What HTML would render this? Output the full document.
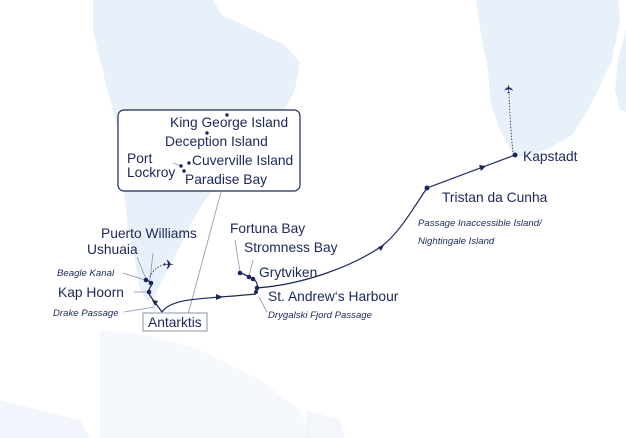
<!DOCTYPE html>
<html><head><meta charset="utf-8"><style>
html,body{margin:0;padding:0;background:#fff;}
svg{display:block;}
text{font-family:"Liberation Sans",sans-serif;fill:#1b2759;}
.n{font-size:13.8px;}
.i{font-size:9.6px;font-style:italic;}
</style></head><body>
<svg width="626" height="438" viewBox="0 0 626 438" xmlns="http://www.w3.org/2000/svg">
<g fill="#e8f0fa">
<path d="M93,0 L213,0 L222,15 L250,28 L285,45 L300,62 L295,90 L287,105 L275,120 L255,140 L230,170 L205,200 L190,225 L178,250 L165,275 L155,295 L148,302 L140,290 L135,260 L128,230 L125,200 L122,170 L118,130 L110,100 L100,60 L93,30 Z"/>
<path d="M476,0 L618,0 L620,20 L612,60 L598,90 L585,115 L572,135 L550,148 L530,155 L515,157 L505,140 L498,125 L490,100 L488,70 L482,40 Z"/>
<path d="M626,30 L618,60 L615,90 L620,110 L626,112 Z"/>
<path d="M0,400 L40,410 L80,420 L90,438 L0,438 Z" opacity="0.6"/>
<path d="M100,330 L150,335 L200,350 L260,380 L300,410 L310,438 L100,438 Z" opacity="0.45"/>
<path d="M306,410 L340,420 L345,438 L306,438 Z" opacity="0.5"/>
</g>
<rect x="118" y="110" width="182" height="81" rx="6" fill="#fff" stroke="#1b2759" stroke-width="1.2"/>
<g stroke="#8a93ad" stroke-width="0.8" fill="none">
<line x1="221" y1="192" x2="186" y2="322"/>
<line x1="137" y1="257" x2="146" y2="279"/>
<line x1="153" y1="253" x2="150" y2="280"/>
<line x1="123" y1="273" x2="145" y2="280"/>
<line x1="134" y1="292" x2="146" y2="292"/>
<line x1="124" y1="312" x2="155" y2="307"/>
<line x1="235" y1="240" x2="240" y2="272"/>
<line x1="253" y1="260" x2="249" y2="276"/>
<line x1="259" y1="297" x2="267" y2="312"/>
<line x1="173" y1="163" x2="181" y2="166"/>
</g>
<rect x="143" y="313" width="64" height="18" fill="#fff" stroke="#8a93ad" stroke-width="1"/>
<g stroke="#1b2759" stroke-width="1.2" fill="none">
<path d="M146,280 C150,281 153,283 151,286 C148,290 148,293 151,297 L162,312"/>
<path d="M162,312 C170,300 195,299 220,297 C235,296 245,295 256,294"/>
<path d="M256,288 C300,285 350,268 382,246 C400,232 412,210 427,188 L515,155"/>
<path d="M240,273 C245,274 249,277 253,279 C258,282 258,286 256,292"/>
</g>
<path d="M150,277 C153,270 158,266 166,264" stroke="#1b2759" stroke-width="0.8" stroke-dasharray="1.5,1.5" fill="none"/>
<path d="M513,152 C511,135 510,115 509,94" stroke="#1b2759" stroke-width="0.8" stroke-dasharray="1.5,1.5" fill="none"/>
<g fill="#1b2759">
<polygon points="155,306 152,300 158,301"/>
<polygon points="223,297 216,294 216,300"/>
<polygon points="384,245 378,247 381,251"/>
<polygon points="486,166 479,165 481,171"/>
<circle cx="146" cy="280" r="2.3"/><circle cx="151" cy="283" r="2.3"/><circle cx="149" cy="292" r="2.3"/>
<circle cx="240" cy="273" r="2.3"/><circle cx="249" cy="277" r="2.3"/><circle cx="253" cy="279" r="2.3"/>
<circle cx="257" cy="288" r="2.3"/><circle cx="256" cy="292" r="2"/><circle cx="427" cy="188" r="2.5"/><circle cx="515" cy="155" r="2.5"/>
<circle cx="227" cy="115" r="1.7"/><circle cx="207" cy="133" r="1.7"/><circle cx="189" cy="163" r="1.7"/>
<circle cx="181" cy="166" r="1.7"/><circle cx="184" cy="171" r="1.7"/>
<text x="163" y="269" font-size="13" style="font-family:'DejaVu Sans',sans-serif">✈</text>
<text x="504" y="93" font-size="12" transform="rotate(-90 509 89)" style="font-family:'DejaVu Sans',sans-serif">✈</text>
</g>
<text class="n" x="170" y="127">King George Island</text>
<text class="n" x="165" y="146">Deception Island</text>
<text class="n" x="127" y="163">Port</text>
<text class="n" x="127" y="177">Lockroy</text>
<text class="n" x="192" y="165">Cuverville Island</text>
<text class="n" x="185" y="184">Paradise Bay</text>
<text class="n" x="101" y="238">Puerto Williams</text>
<text class="n" x="87" y="254">Ushuaia</text>
<text class="i" x="57" y="276">Beagle Kanal</text>
<text class="n" x="58" y="297">Kap Hoorn</text>
<text class="i" x="53" y="316">Drake Passage</text>
<text class="n" x="148" y="327">Antarktis</text>
<text class="n" x="230" y="233">Fortuna Bay</text>
<text class="n" x="244" y="252">Stromness Bay</text>
<text class="n" x="259" y="277">Grytviken</text>
<text class="n" x="268" y="301">St. Andrew‘s Harbour</text>
<text class="i" x="268" y="318">Drygalski Fjord Passage</text>
<text class="n" x="442" y="202">Tristan da Cunha</text>
<text class="i" x="418" y="226">Passage Inaccessible Island/</text>
<text class="i" x="418" y="244">Nightingale Island</text>
<text class="n" x="523" y="161">Kapstadt</text>
</svg>
</body></html>
